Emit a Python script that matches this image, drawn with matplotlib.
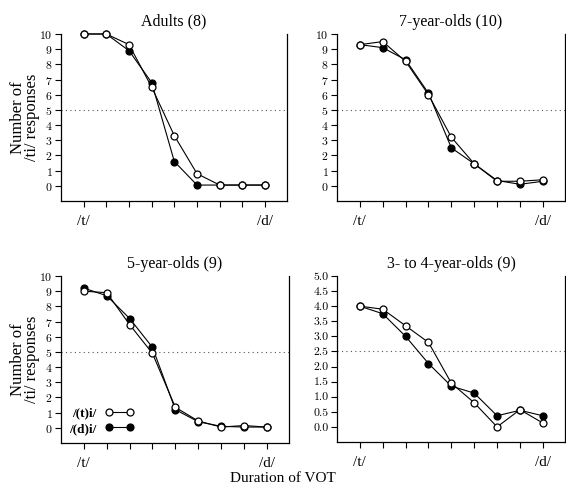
import matplotlib
matplotlib.use("Agg")
import matplotlib.pyplot as plt
import numpy as np

plt.rcParams['font.family'] = ['Liberation Serif', 'DejaVu Serif']
plt.rcParams['axes.formatter.use_mathtext'] = True

steps = np.arange(1, 10)
panels = ["Adults (8)", "7-year-olds (10)", "5-year-olds (9)", "3- to 4-year-olds (9)"]

ti_open = [
    [10, 10, 9.3, 6.5, 3.3, 0.8, 0.05, 0.05, 0.05],
    [9.3, 9.5, 8.2, 6.0, 3.2, 1.45, 0.3, 0.3, 0.4],
    [9.0, 8.9, 6.8, 4.9, 1.35, 0.45, 0.05, 0.15, 0.05],
    [4.0, 3.9, 3.35, 2.8, 1.45, 0.8, 0.0, 0.57, 0.13],
]
di_filled = [
    [10, 10, 8.9, 6.8, 1.6, 0.05, 0.05, 0.05, 0.05],
    [9.3, 9.1, 8.3, 6.1, 2.5, 1.45, 0.35, 0.1, 0.3],
    [9.2, 8.7, 7.2, 5.3, 1.2, 0.4, 0.1, 0.05, 0.05],
    [4.0, 3.75, 3.0, 2.1, 1.35, 1.12, 0.37, 0.55, 0.37],
]
ymax = [10, 10, 10, 5]
yticks = [np.arange(0, 11, 1), np.arange(0, 11, 1), np.arange(0, 11, 1), np.arange(0, 5.01, 0.5)]

W, H = 566, 486
boxes = [(61, 287, 34, 201), (337, 565, 34, 201), (61, 289, 276, 443), (337, 565, 276, 442)]

fig = plt.figure(figsize=(W / 100, H / 100), dpi=100)

for i in range(4):
    l, r, t, b = boxes[i]
    ax = fig.add_axes([l / W, 1 - b / H, (r - l) / W, (b - t) / H])
    ax.plot(steps, di_filled[i], '-o', color='black', lw=0.8, ms=5,
            mfc='black', mec='black', mew=0.9, clip_on=False, zorder=3, label='/(d)i/')
    ax.plot(steps, ti_open[i], '-o', color='black', lw=0.8, ms=5,
            mfc='white', mec='black', mew=0.9, clip_on=False, zorder=4, label='/(t)i/')
    ax.axhline(ymax[i] / 2, color='#555555', lw=0.8, ls=(0, (1, 3)), zorder=1)
    ax.set_xlim(0, 9.97)
    ax.set_ylim(-ymax[i] * 0.1, ymax[i])
    ax.set_yticks(yticks[i])
    if i == 3:
        ax.set_yticklabels(['%.1f' % v for v in yticks[i]])
    for lab in ax.get_yticklabels():
        lab.set_fontfamily('cmr10')
        lab.set_fontsize(8.5)
    ax.set_xticks(steps)
    ax.set_xticklabels(['/t/', '', '', '', '', '', '', '', '/d/'], fontsize=11)
    ax.tick_params(axis='both', direction='out', length=4, width=0.8, pad=2)
    ax.tick_params(axis='x', pad=6)
    ax.spines['top'].set_visible(False)
    for s in ['left', 'right', 'bottom']:
        ax.spines[s].set_linewidth(0.9)
    ax.set_title(panels[i], fontsize=11.5, pad=6)
    if i % 2 == 0:
        ax.set_ylabel('Number of\n/ti/ responses', fontsize=12, linespacing=0.8)
        ax.yaxis.set_label_coords(-0.093, 0.5)
    if i == 2:
        h, lb = ax.get_legend_handles_labels()
        ax.legend(h[::-1], lb[::-1], loc='lower left', bbox_to_anchor=(-0.015, -0.022),
                  frameon=False, markerfirst=False, numpoints=2, handlelength=2.2,
                  handletextpad=0.6, labelspacing=0.25,
                  prop={'weight': 'bold', 'size': 9.5})

fig.text(283 / W, 1 - 478 / H, 'Duration of VOT', ha='center', va='center', fontsize=11)

fig.savefig('out.png', dpi=100)
